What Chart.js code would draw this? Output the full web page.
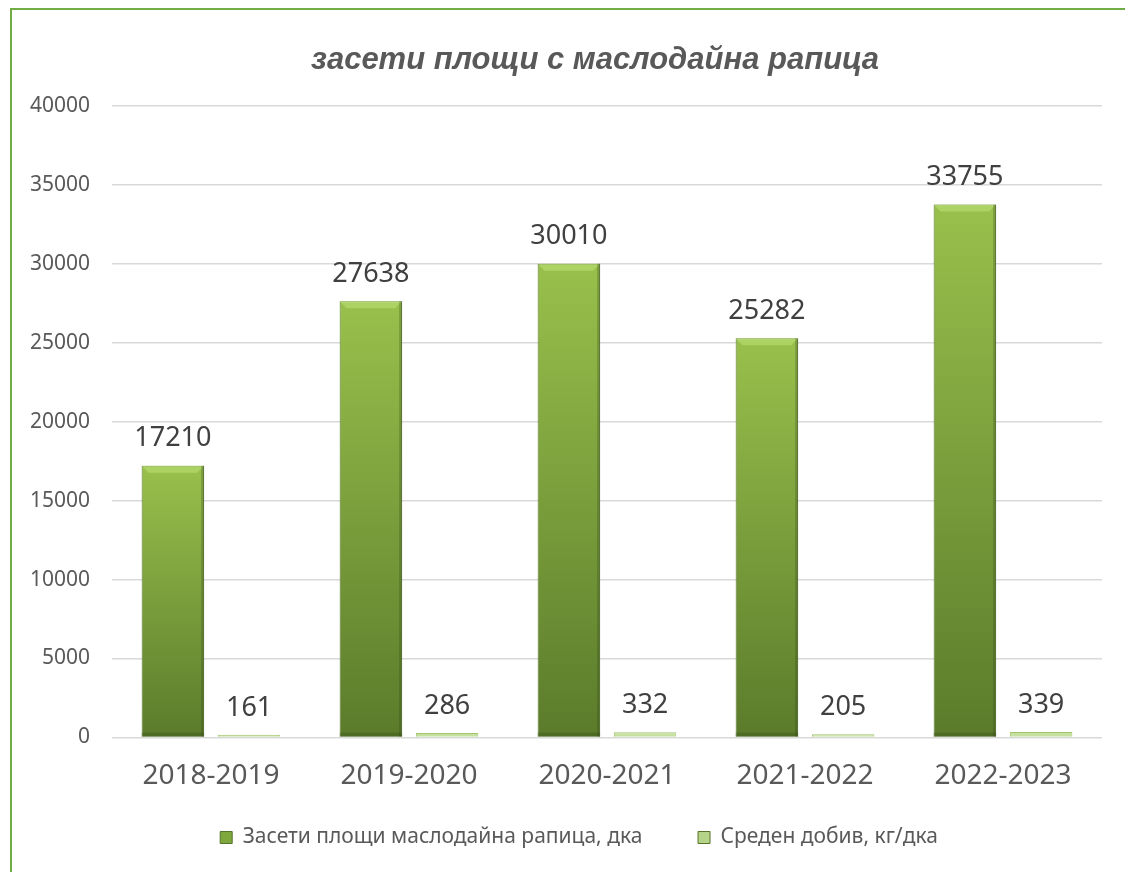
<!DOCTYPE html>
<html>
<head>
<meta charset="utf-8">
<script src="https://cdn.jsdelivr.net/npm/chart.js@4.4.1/dist/chart.umd.min.js"></script>
<style>
  html, body { margin: 0; padding: 0; background: #fff; overflow: hidden; }
  #frame {
    position: absolute; left: 10px; top: 8px;
    width: 1300px; height: 1000px;
    border: 2px solid #70ad47;
  }
  #wrap { position: absolute; left: 0; top: 0; width: 1180px; height: 872px; }
</style>
</head>
<body>
<div id="frame"></div>
<div id="wrap"><canvas id="chart" width="1180" height="872"></canvas></div>
<script>
// data
const seasons = ["2018-2019", "2019-2020", "2020-2021", "2021-2022", "2022-2023"];
const sownArea = [17210, 27638, 30010, 25282, 33755];   // дка
const avgYield = [161, 286, 332, 205, 339];             // кг/дка
const seriesNames = ["Засети площи маслодайна рапица, дка", "Среден добив, кг/дка"];
const chartTitle = "засети площи с маслодайна рапица";

// per-bar vertical gradient (light top -> dark bottom)
function barGradient(top, bottom) {
  return (ctx) => {
    const chart = ctx.chart;
    if (!chart.chartArea || ctx.parsed == null) return top;
    const y = chart.scales.y;
    const y0 = y.getPixelForValue(ctx.parsed.y);
    const y1 = y.getPixelForValue(0);
    if (y1 - y0 < 1) return top;
    const g = chart.ctx.createLinearGradient(0, y0, 0, y1);
    g.addColorStop(0, top);
    g.addColorStop(1, bottom);
    return g;
  };
}

// title, slightly left of the plot centre like the original
const chartTitlePlugin = {
  id: "chartTitlePlugin",
  afterDraw(chart) {
    const c = chart.ctx, a = chart.chartArea;
    c.save();
    c.font = "italic bold 31px 'Liberation Sans'";
    c.fillStyle = "#595959";
    c.textAlign = "center";
    c.textBaseline = "middle";
    c.fillText(chartTitle, (a.left + a.right) / 2 - 12, a.top - 46);
    c.restore();
  }
};

// value labels above bars
const valueLabels = {
  id: "valueLabels",
  afterDatasetsDraw(chart) {
    const c = chart.ctx;
    c.save();
    c.font = "27px 'Noto Sans'";
    c.fillStyle = "#404040";
    c.textAlign = "center";
    c.textBaseline = "middle";
    chart.data.datasets.forEach((ds, i) => {
      chart.getDatasetMeta(i).data.forEach((bar, j) => {
        c.fillText(String(ds.data[j]), bar.x, bar.y - 27);
      });
    });
    c.restore();
  }
};

// bevel highlight on the big bars
const bevel = {
  id: "bevel",
  afterDatasetsDraw(chart) {
    const c = chart.ctx;
    const meta = chart.getDatasetMeta(0);
    c.save();
    meta.data.forEach((bar) => {
      const w = bar.width, x0 = bar.x - w / 2, x1 = bar.x + w / 2, t = bar.y, b = bar.base;
      const d = 7;
      c.fillStyle = "rgba(190,225,120,0.55)";
      c.beginPath();
      c.moveTo(x0, t); c.lineTo(x1, t); c.lineTo(x1 - d, t + d); c.lineTo(x0 + d, t + d);
      c.closePath(); c.fill();
      c.fillStyle = "rgba(40,60,15,0.25)";
      c.fillRect(x1 - 3, t, 3, b - t);
      c.fillRect(x0, b - 4, w, 4);
    });
    c.restore();
  }
};

new Chart(document.getElementById("chart"), {
  type: "bar",
  data: {
    labels: seasons,
    datasets: [
      {
        label: seriesNames[0],
        data: sownArea,
        backgroundColor: barGradient("#99c04c", "#5b7b2b"),
        borderColor: "#55732a",
        borderWidth: 1,
        barPercentage: 0.82,
        categoryPercentage: 0.77
      },
      {
        label: seriesNames[1],
        data: avgYield,
        backgroundColor: "#c6e0a0",
        borderColor: "#a5c46e",
        borderWidth: 1,
        barPercentage: 0.82,
        categoryPercentage: 0.77
      }
    ]
  },
  options: {
    responsive: false,
    animation: false,
    layout: { padding: { left: 27, right: 49, top: 106, bottom: 14 } },
    plugins: {
      title: { display: false },
      legend: {
        position: "bottom",
        labels: {
          color: "#595959",
          font: { family: "'Noto Sans'", size: 21 },
          boxWidth: 12,
          boxHeight: 12,
          padding: 12,
          // trailing spaces widen the gap between the two items
          generateLabels: (chart) => chart.data.datasets.map((ds, i) => ({
            text: i === 0 ? ds.label + "        " : ds.label,
            fillStyle: i === 0 ? "#7fa83c" : "#b5d48a",
            strokeStyle: "#55732a",
            lineWidth: 1,
            fontColor: "#595959",
            datasetIndex: i
          }))
        }
      },
      tooltip: { enabled: false }
    },
    scales: {
      x: {
        grid: { display: false, drawTicks: false },
        border: { display: false },
        ticks: {
          color: "#595959",
          font: { family: "'Noto Sans'", size: 28 },
          padding: 22
        }
      },
      y: {
        min: 0,
        max: 40000,
        afterFit: (scale) => { scale.width = 85; },
        grid: { color: "#d9d9d9", lineWidth: 1.5, drawTicks: false },
        border: { display: false },
        ticks: {
          stepSize: 5000,
          color: "#595959",
          font: { family: "'Noto Sans'", size: 21 },
          padding: 22,
          callback: (v) => String(v)
        }
      },
      // empty spacer on the right so the legend sits where it did in the original
      y2: {
        type: "linear",
        position: "right",
        afterFit: (scale) => { scale.width = 29; },
        grid: { display: false, drawTicks: false },
        border: { display: false },
        ticks: { display: false }
      }
    }
  },
  plugins: [valueLabels, bevel, chartTitlePlugin]
});
</script>
</body>
</html>
